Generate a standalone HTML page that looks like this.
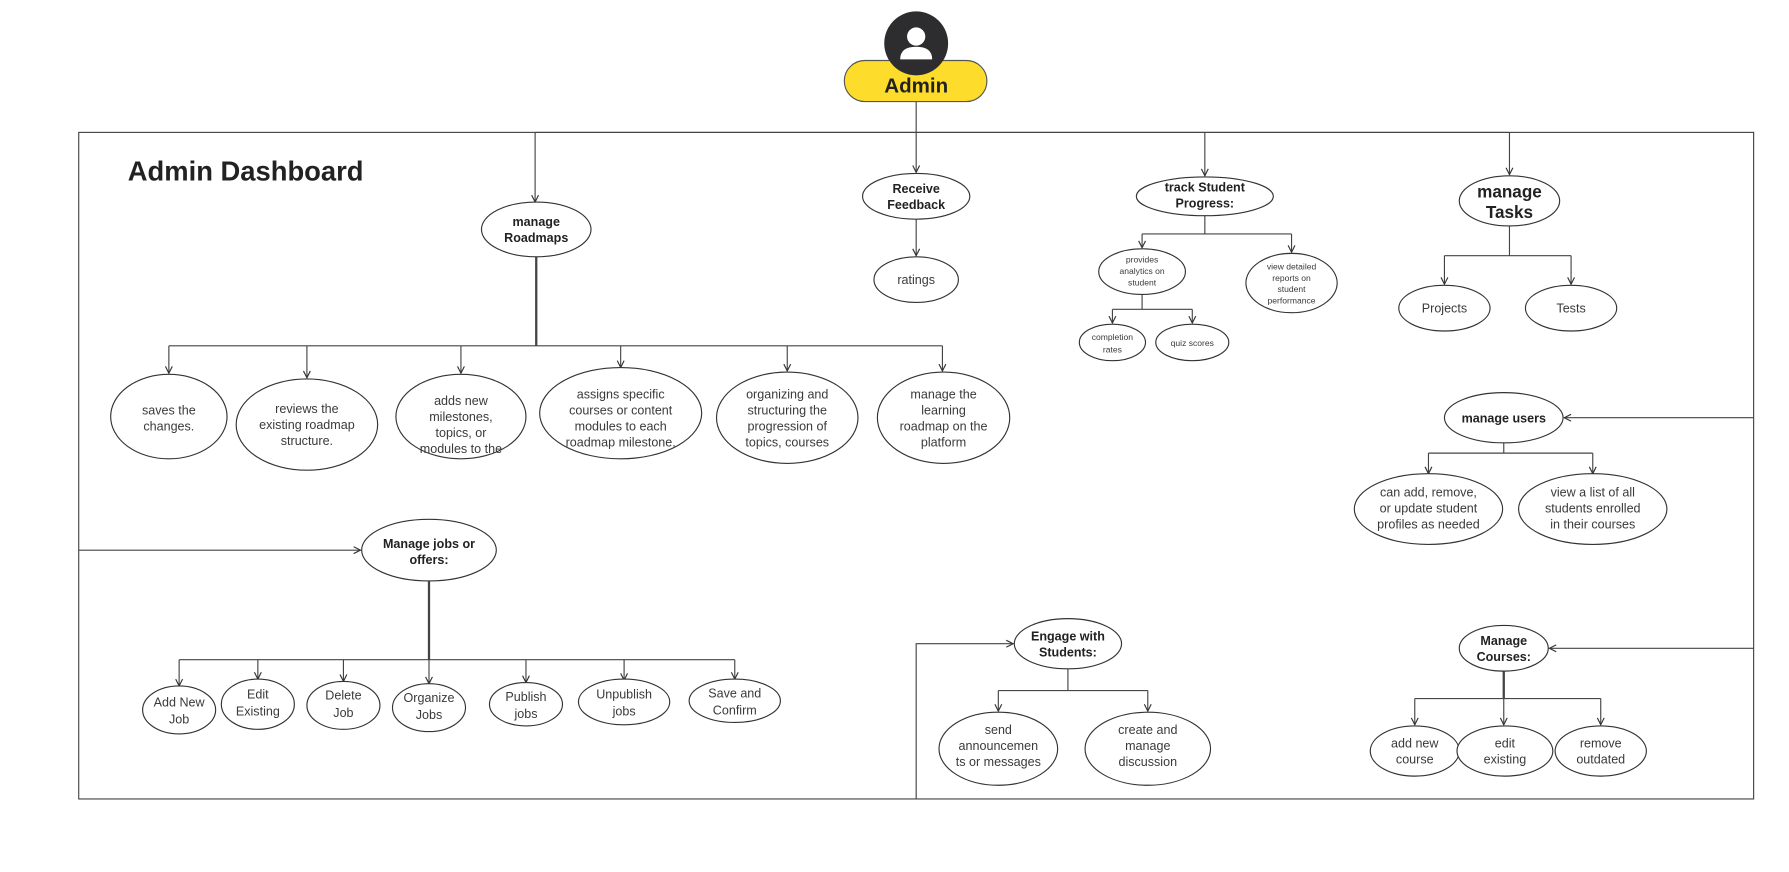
<!DOCTYPE html>
<html><head><meta charset="utf-8"><style>
html,body{margin:0;padding:0;background:#fff;}
svg{display:block;}
text{font-family:"Liberation Sans","DejaVu Sans",sans-serif;fill:#3a3a3a;text-anchor:middle;}
.b{font-weight:bold;fill:#222;}
</style></head><body>
<svg width="1789" height="872" viewBox="0 0 1568 764" preserveAspectRatio="none" xmlns="http://www.w3.org/2000/svg">
<defs><marker id="a" markerWidth="8" markerHeight="8" refX="7" refY="4" orient="auto" markerUnits="userSpaceOnUse"><path d="M1,1 L7,4 L1,7" fill="none" stroke="#333" stroke-width="1"/></marker></defs>
<g fill="none" stroke="#444" stroke-width="1">
<rect x="69" y="116" width="1468" height="584"/>
<line x1="803" y1="89" x2="803" y2="116"/>
<line x1="469" y1="116" x2="1323" y2="116"/>
<line x1="469" y1="116" x2="469" y2="177" marker-end="url(#a)"/>
<line x1="803" y1="116" x2="803" y2="151" marker-end="url(#a)"/>
<line x1="1056" y1="116" x2="1056" y2="154" marker-end="url(#a)"/>
<line x1="1323" y1="116" x2="1323" y2="153" marker-end="url(#a)"/>
<line x1="803" y1="192" x2="803" y2="224" marker-end="url(#a)"/>
<path d="M1056 189V205M1001 205H1132"/>
<line x1="1001" y1="205" x2="1001" y2="217" marker-end="url(#a)"/>
<line x1="1132" y1="205" x2="1132" y2="221" marker-end="url(#a)"/>
<path d="M1001 258V271M975 271H1045"/>
<line x1="975" y1="271" x2="975" y2="283" marker-end="url(#a)"/>
<line x1="1045" y1="271" x2="1045" y2="283" marker-end="url(#a)"/>
<path d="M1323 198V224M1266 224H1377"/>
<line x1="1266" y1="224" x2="1266" y2="249" marker-end="url(#a)"/>
<line x1="1377" y1="224" x2="1377" y2="249" marker-end="url(#a)"/>
<path d="M470 225V303" stroke-width="2"/>
<path d="M148 303H826"/>
<line x1="148" y1="303" x2="148" y2="327" marker-end="url(#a)"/>
<line x1="269" y1="303" x2="269" y2="331" marker-end="url(#a)"/>
<line x1="404" y1="303" x2="404" y2="327" marker-end="url(#a)"/>
<line x1="544" y1="303" x2="544" y2="322" marker-end="url(#a)"/>
<line x1="690" y1="303" x2="690" y2="325" marker-end="url(#a)"/>
<line x1="826" y1="303" x2="826" y2="325" marker-end="url(#a)"/>
<line x1="1537" y1="366" x2="1371" y2="366" marker-end="url(#a)"/>
<path d="M1318 388V397M1252 397H1396"/>
<line x1="1252" y1="397" x2="1252" y2="415" marker-end="url(#a)"/>
<line x1="1396" y1="397" x2="1396" y2="415" marker-end="url(#a)"/>
<line x1="69" y1="482" x2="316" y2="482" marker-end="url(#a)"/>
<path d="M376 509V578" stroke-width="2"/>
<path d="M157 578H644"/>
<line x1="157" y1="578" x2="157" y2="601" marker-end="url(#a)"/>
<line x1="226" y1="578" x2="226" y2="595" marker-end="url(#a)"/>
<line x1="301" y1="578" x2="301" y2="597" marker-end="url(#a)"/>
<line x1="376" y1="578" x2="376" y2="599" marker-end="url(#a)"/>
<line x1="461" y1="578" x2="461" y2="598" marker-end="url(#a)"/>
<line x1="547" y1="578" x2="547" y2="596" marker-end="url(#a)"/>
<line x1="644" y1="578" x2="644" y2="595" marker-end="url(#a)"/>
<path d="M803 700V564H888" marker-end="url(#a)"/>
<path d="M936 586V605M875 605H1006"/>
<line x1="875" y1="605" x2="875" y2="623" marker-end="url(#a)"/>
<line x1="1006" y1="605" x2="1006" y2="623" marker-end="url(#a)"/>
<line x1="1537" y1="568" x2="1358" y2="568" marker-end="url(#a)"/>
<path d="M1318 588V612" stroke-width="2"/>
<path d="M1240 612H1403"/>
<line x1="1240" y1="612" x2="1240" y2="635" marker-end="url(#a)"/>
<line x1="1318" y1="612" x2="1318" y2="635" marker-end="url(#a)"/>
<line x1="1403" y1="612" x2="1403" y2="635" marker-end="url(#a)"/>
</g>
<g fill="#fff" stroke="#333" stroke-width="1">
<ellipse cx="470" cy="201" rx="48" ry="24"/>
<ellipse cx="803" cy="172" rx="47" ry="20"/>
<ellipse cx="803" cy="245" rx="37" ry="20"/>
<ellipse cx="1056" cy="172" rx="60" ry="17"/>
<ellipse cx="1001" cy="238" rx="38" ry="20"/>
<ellipse cx="1132" cy="248" rx="40" ry="26"/>
<ellipse cx="975" cy="300" rx="29" ry="16"/>
<ellipse cx="1045" cy="300" rx="32" ry="16"/>
<ellipse cx="1323" cy="176" rx="44" ry="22"/>
<ellipse cx="1266" cy="270" rx="40" ry="20"/>
<ellipse cx="1377" cy="270" rx="40" ry="20"/>
<ellipse cx="148" cy="365" rx="51" ry="37"/>
<ellipse cx="269" cy="372" rx="62" ry="40"/>
<ellipse cx="404" cy="365" rx="57" ry="37"/>
<ellipse cx="544" cy="362" rx="71" ry="40"/>
<ellipse cx="690" cy="366" rx="62" ry="40"/>
<ellipse cx="827" cy="366" rx="58" ry="40"/>
<ellipse cx="1318" cy="366" rx="52" ry="22"/>
<ellipse cx="1252" cy="446" rx="65" ry="31"/>
<ellipse cx="1396" cy="446" rx="65" ry="31"/>
<ellipse cx="376" cy="482" rx="59" ry="27"/>
<ellipse cx="157" cy="622" rx="32" ry="21"/>
<ellipse cx="226" cy="617" rx="32" ry="22"/>
<ellipse cx="301" cy="618" rx="32" ry="21"/>
<ellipse cx="376" cy="620" rx="32" ry="21"/>
<ellipse cx="461" cy="617" rx="32" ry="19"/>
<ellipse cx="547" cy="615" rx="40" ry="20"/>
<ellipse cx="644" cy="614" rx="40" ry="19"/>
<ellipse cx="936" cy="564" rx="47" ry="22"/>
<ellipse cx="875" cy="656" rx="52" ry="32"/>
<ellipse cx="1006" cy="656" rx="55" ry="32"/>
<ellipse cx="1318" cy="568" rx="39" ry="20"/>
<ellipse cx="1240" cy="658" rx="39" ry="22"/>
<ellipse cx="1319" cy="658" rx="42" ry="22"/>
<ellipse cx="1403" cy="658" rx="40" ry="22"/>
</g>
<rect x="740" y="53" width="125" height="36" rx="18" fill="#fddc2c" stroke="#555"/>
<circle cx="803" cy="38" r="28" fill="#2d2d30"/>
<circle cx="803" cy="32" r="8" fill="#fff"/>
<path d="M789 52 Q789 41 803 41 Q817 41 817 52Z" fill="#fff"/>
<text x="803" y="81" class="b" font-size="18">Admin</text>
<text x="112" y="158" class="b" font-size="24" style="text-anchor:start">Admin Dashboard</text>
<g font-size="11">
<text x="470" y="198" class="b">manage</text><text x="470" y="212" class="b">Roadmaps</text>
<text x="803" y="169" class="b">Receive</text><text x="803" y="183" class="b">Feedback</text>
<text x="803" y="249">ratings</text>
<text x="1056" y="168" class="b">track Student</text><text x="1056" y="182" class="b">Progress:</text>
<text x="1318" y="370" class="b">manage users</text>
<text x="376" y="480" class="b">Manage jobs or</text><text x="376" y="494" class="b">offers:</text>
<text x="936" y="561" class="b">Engage with</text><text x="936" y="575" class="b">Students:</text>
<text x="1318" y="565" class="b">Manage</text><text x="1318" y="579" class="b">Courses:</text>
<text x="1266" y="274">Projects</text><text x="1377" y="274">Tests</text>
<text x="148" y="363">saves the</text><text x="148" y="377">changes.</text>
<text x="269" y="362">reviews the</text><text x="269" y="376">existing roadmap</text><text x="269" y="390">structure.</text>
<text x="404" y="355">adds new</text><text x="404" y="369">milestones,</text><text x="404" y="383">topics, or</text><text x="404" y="397">modules to the</text>
<text x="544" y="349">assigns specific</text><text x="544" y="363">courses or content</text><text x="544" y="377">modules to each</text><text x="544" y="391">roadmap milestone.</text>
<text x="690" y="349">organizing and</text><text x="690" y="363">structuring the</text><text x="690" y="377">progression of</text><text x="690" y="391">topics, courses</text>
<text x="827" y="349">manage the</text><text x="827" y="363">learning</text><text x="827" y="377">roadmap on the</text><text x="827" y="391">platform</text>
<text x="1252" y="435">can add, remove,</text><text x="1252" y="449">or update student</text><text x="1252" y="463">profiles as needed</text>
<text x="1396" y="435">view a list of all</text><text x="1396" y="449">students enrolled</text><text x="1396" y="463">in their courses</text>
<text x="157" y="619">Add New</text><text x="157" y="634">Job</text>
<text x="226" y="612">Edit</text><text x="226" y="627">Existing</text>
<text x="301" y="613">Delete</text><text x="301" y="628">Job</text>
<text x="376" y="615">Organize</text><text x="376" y="630">Jobs</text>
<text x="461" y="614">Publish</text><text x="461" y="629">jobs</text>
<text x="547" y="612">Unpublish</text><text x="547" y="627">jobs</text>
<text x="644" y="611">Save and</text><text x="644" y="626">Confirm</text>
<text x="875" y="643">send</text><text x="875" y="657">announcemen</text><text x="875" y="671">ts or messages</text>
<text x="1006" y="643">create and</text><text x="1006" y="657">manage</text><text x="1006" y="671">discussion</text>
<text x="1240" y="655">add new</text><text x="1240" y="669">course</text>
<text x="1319" y="655">edit</text><text x="1319" y="669">existing</text>
<text x="1403" y="655">remove</text><text x="1403" y="669">outdated</text>
</g>
<text x="1323" y="173" class="b" font-size="15">manage</text><text x="1323" y="191" class="b" font-size="15">Tasks</text>
<g font-size="7.5" style="fill:#555">
<text x="1001" y="230">provides</text><text x="1001" y="240">analytics on</text><text x="1001" y="250">student</text>
<text x="1132" y="236">view detailed</text><text x="1132" y="246">reports on</text><text x="1132" y="256">student</text><text x="1132" y="266">performance</text>
<text x="975" y="298">completion</text><text x="975" y="309">rates</text>
<text x="1045" y="303">quiz scores</text>
</g>
</svg>
</body></html>
